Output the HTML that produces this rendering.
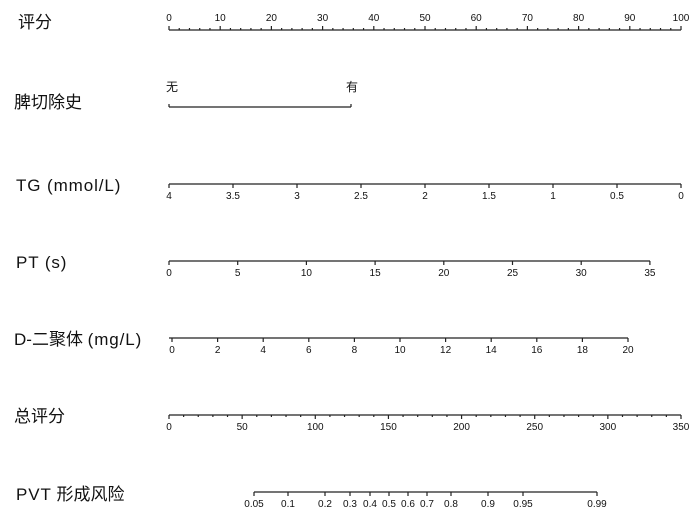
<!DOCTYPE html>
<html><head><meta charset="utf-8"><style>
body{margin:0;background:#fff}
svg{display:block}
.l{font-family:"Liberation Sans","Noto Sans CJK SC",sans-serif;font-size:17px;fill:#111}
.ls{letter-spacing:0.9px}
.t{font-family:"Liberation Sans",sans-serif;font-size:10px;fill:#111;text-anchor:middle}
</style></head><body>
<svg width="700" height="527" viewBox="0 0 700 527" xmlns="http://www.w3.org/2000/svg" id="s">
<g stroke="#222" stroke-width="1.2" fill="none" id="g"></g>
<text class="l" x="18" y="28">评分</text>
<text class="l" x="14" y="108">脾切除史</text>
<text class="l ls" x="16" y="191">TG (mmol/L)</text>
<text class="l ls" x="16" y="268">PT (s)</text>
<text class="l" x="14" y="345">D-二聚体 <tspan class="ls">(mg/L)</tspan></text>
<text class="l" x="14" y="422">总评分</text>
<text class="l" x="16" y="500"><tspan class="ls">PVT</tspan> 形成风险</text>
<text class="t" x="172" y="91" style="font-size:12px;font-family:'Noto Sans CJK SC',sans-serif">无</text>
<text class="t" x="352" y="91" style="font-size:12px;font-family:'Noto Sans CJK SC',sans-serif">有</text>
</svg>
<script>
var s=document.getElementById('s'),g=document.getElementById('g'),ns='http://www.w3.org/2000/svg';
function ln(x1,y1,x2,y2){var e=document.createElementNS(ns,'line');e.setAttribute('x1',x1);e.setAttribute('y1',y1);e.setAttribute('x2',x2);e.setAttribute('y2',y2);g.appendChild(e);}
function tx(x,y,t){var e=document.createElementNS(ns,'text');e.setAttribute('class','t');e.setAttribute('x',x);e.setAttribute('y',y);e.textContent=t;s.appendChild(e);}
var y=30;ln(169,y,681,y);
for(var i=0;i<=100;i+=2){var x=169+i*5.12;ln(x,y,x,y-(i%10==0?4:2));if(i%10==0)tx(x,21,i);}
ln(169,107,351,107);ln(169,107,169,104);ln(351,107,351,104);
function ax(y,items,x0,x1,minor){ln(x0,y,x1,y);items.forEach(function(it){ln(it[0],y,it[0],y+4);tx(it[0],y+15,it[1]);});if(minor)minor.forEach(function(x){ln(x,y,x,y+2);});}
var a=[];for(var i=0;i<=8;i++)a.push([169+i*64,String(4-i*0.5)]);ax(184,a,169,681);
a=[];for(var i=0;i<=7;i++)a.push([169+i*68.7,String(i*5)]);ax(261,a,169,650);
a=[];for(var i=0;i<=10;i++)a.push([172+i*45.6,String(i*2)]);ax(338,a,169,628);
a=[];var mn=[];for(var i=0;i<=350;i+=10){var x=169+i*512/350;if(i%50==0)a.push([x,String(i)]);else mn.push(x);}ax(415,a,169,681,mn);
var r=[[254,'0.05'],[288,'0.1'],[325,'0.2'],[350,'0.3'],[370,'0.4'],[389,'0.5'],[408,'0.6'],[427,'0.7'],[451,'0.8'],[488,'0.9'],[523,'0.95'],[597,'0.99']];
ax(492,r,254,597);
</script>
</body></html>
